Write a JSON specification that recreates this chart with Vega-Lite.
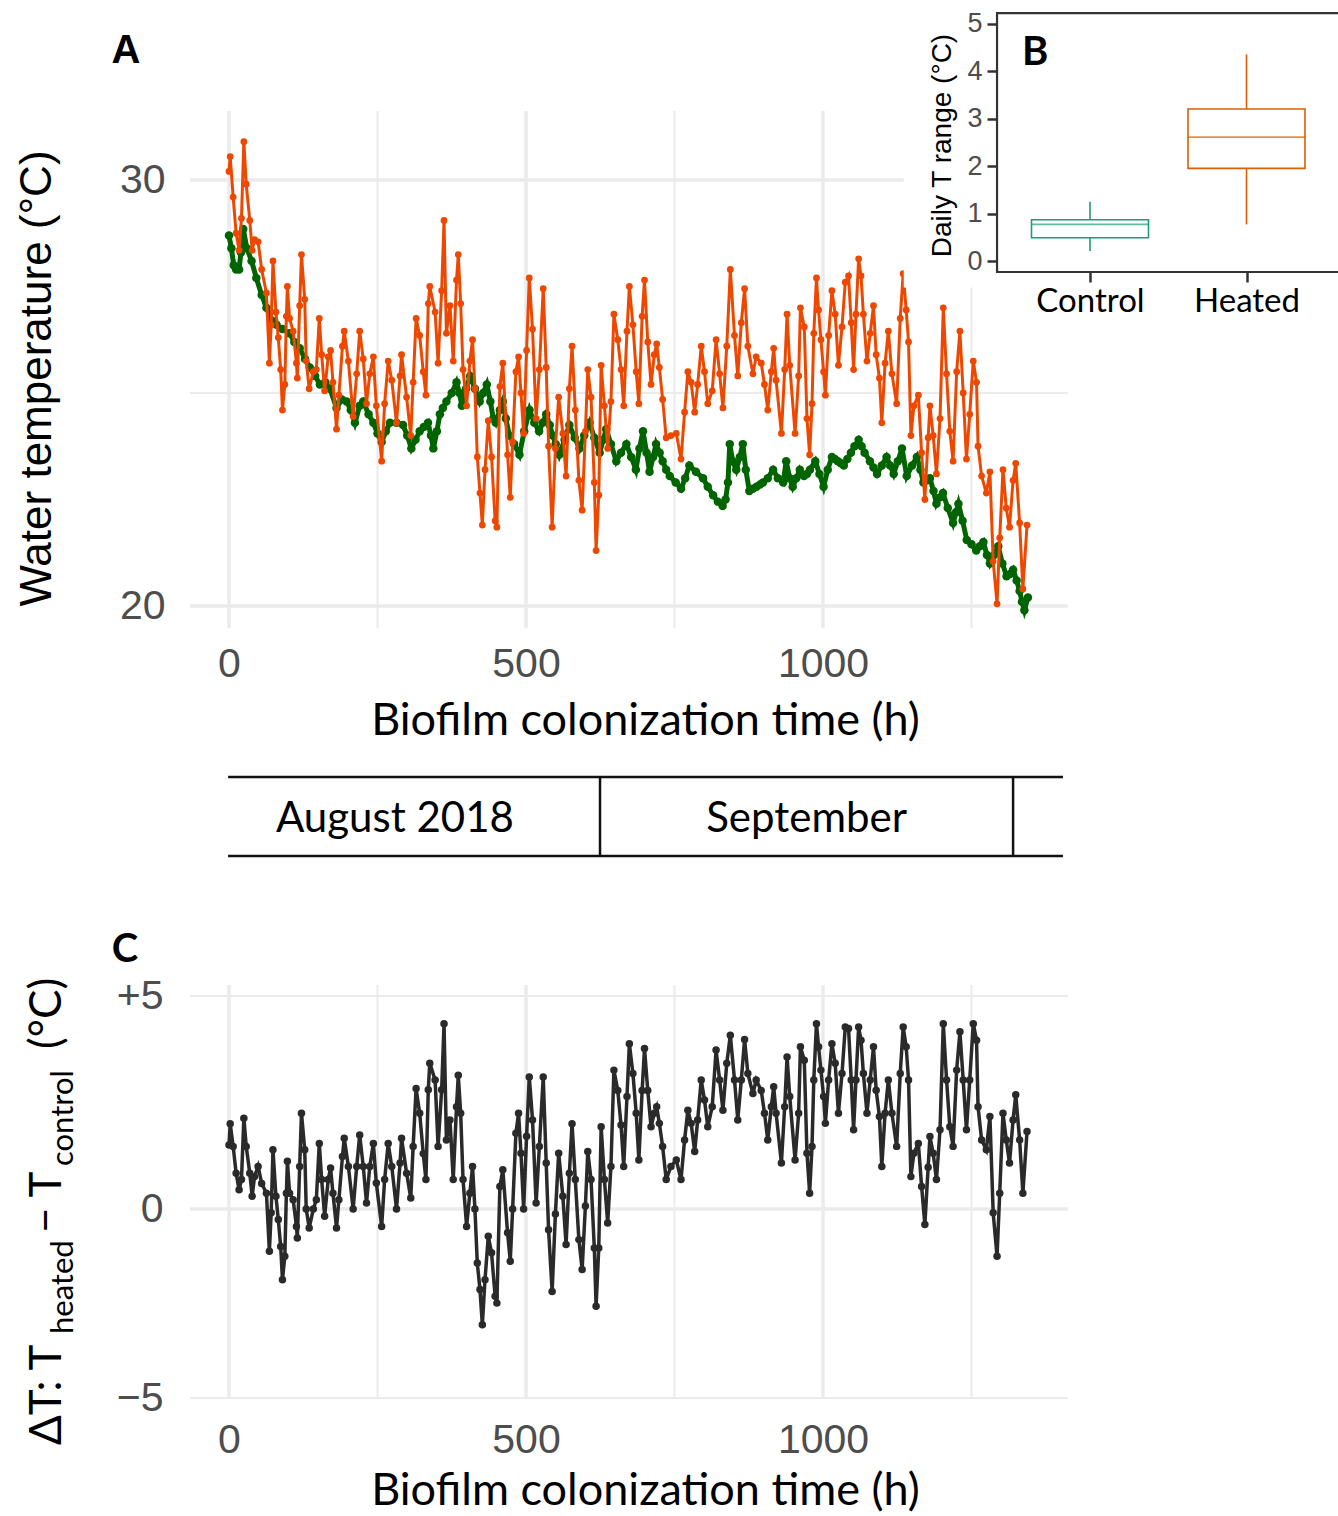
{
  "$schema": "https://vega.github.io/schema/vega-lite/v6.json",
  "width": 1338,
  "height": 1516,
  "autosize": "none",
  "padding": 0,
  "background": "white",
  "config": {"view": {"stroke": null}},
  "datasets": {
    "ctrl": [
      {"h":0,"t":28.7},{"h":4,"t":28.4},{"h":8,"t":28.0},{"h":12,"t":27.9},{"h":17,"t":27.9},{"h":20,"t":28.3},{"h":24,"t":28.85},{"h":30,"t":28.4},{"h":38,"t":28.1},{"h":46,"t":27.7},{"h":55,"t":27.3},{"h":63,"t":27.0},{"h":72,"t":26.7},{"h":80,"t":26.6},{"h":90,"t":26.5},{"h":102,"t":26.4},{"h":110,"t":26.2},{"h":119,"t":26.05},{"h":128,"t":25.8},{"h":136,"t":25.6},{"h":145,"t":25.4},{"h":153,"t":25.2},{"h":162,"t":25.25},{"h":170,"t":25.1},{"h":181,"t":24.65},{"h":190,"t":24.85},{"h":198,"t":24.8},{"h":205,"t":24.6},{"h":212,"t":24.3},{"h":220,"t":24.7},{"h":226,"t":24.8},{"h":235,"t":24.5},{"h":243,"t":24.3},{"h":250,"t":24.05},{"h":257,"t":23.85},{"h":264,"t":24.1},{"h":271,"t":24.3},{"h":282,"t":24.3},{"h":293,"t":24.25},{"h":300,"t":24.0},{"h":307,"t":23.7},{"h":314,"t":23.9},{"h":321,"t":24.1},{"h":328,"t":24.2},{"h":335,"t":24.3},{"h":340,"t":24.0},{"h":344,"t":23.7},{"h":350,"t":24.1},{"h":355,"t":24.5},{"h":360,"t":24.65},{"h":366,"t":24.8},{"h":375,"t":25.0},{"h":383,"t":25.25},{"h":388,"t":25.0},{"h":392,"t":24.7},{"h":399,"t":25.1},{"h":406,"t":25.4},{"h":414,"t":25.1},{"h":422,"t":24.8},{"h":428,"t":25.0},{"h":434,"t":25.2},{"h":440,"t":24.8},{"h":445,"t":24.4},{"h":449,"t":24.3},{"h":456,"t":24.6},{"h":461,"t":24.8},{"h":466,"t":24.4},{"h":472,"t":24.0},{"h":480,"t":23.8},{"h":489,"t":23.55},{"h":497,"t":24.1},{"h":506,"t":24.6},{"h":514,"t":24.3},{"h":522,"t":24.1},{"h":528,"t":24.3},{"h":534,"t":24.5},{"h":540,"t":24.25},{"h":545,"t":24.0},{"h":550,"t":23.8},{"h":556,"t":23.55},{"h":565,"t":23.9},{"h":573,"t":24.25},{"h":582,"t":23.95},{"h":590,"t":23.7},{"h":598,"t":24.0},{"h":607,"t":24.3},{"h":615,"t":23.95},{"h":624,"t":23.6},{"h":630,"t":23.9},{"h":635,"t":24.15},{"h":643,"t":23.8},{"h":652,"t":23.4},{"h":660,"t":23.6},{"h":669,"t":23.8},{"h":677,"t":23.5},{"h":685,"t":23.2},{"h":691,"t":23.7},{"h":697,"t":24.1},{"h":703,"t":23.6},{"h":708,"t":23.15},{"h":714,"t":23.5},{"h":719,"t":23.8},{"h":725,"t":23.6},{"h":730,"t":23.4},{"h":736,"t":23.2},{"h":742,"t":23.05},{"h":752,"t":22.9},{"h":761,"t":22.75},{"h":768,"t":23.0},{"h":775,"t":23.3},{"h":786,"t":23.15},{"h":798,"t":23.0},{"h":806,"t":22.8},{"h":815,"t":22.6},{"h":823,"t":22.45},{"h":831,"t":22.35},{"h":836,"t":22.5},{"h":840,"t":22.9},{"h":843,"t":23.8},{"h":848,"t":23.4},{"h":854,"t":23.2},{"h":860,"t":23.5},{"h":865,"t":23.8},{"h":870,"t":23.2},{"h":876,"t":22.7},{"h":882,"t":22.75},{"h":888,"t":22.8},{"h":894,"t":22.85},{"h":899,"t":22.9},{"h":907,"t":23.0},{"h":916,"t":23.2},{"h":924,"t":23.0},{"h":933,"t":22.9},{"h":938,"t":23.4},{"h":944,"t":23.0},{"h":949,"t":22.8},{"h":955,"t":23.0},{"h":961,"t":23.2},{"h":968,"t":23.05},{"h":973,"t":23.1},{"h":978,"t":23.2},{"h":987,"t":23.4},{"h":994,"t":23.1},{"h":1001,"t":22.8},{"h":1008,"t":23.2},{"h":1015,"t":23.5},{"h":1020,"t":23.45},{"h":1025,"t":23.4},{"h":1030,"t":23.35},{"h":1035,"t":23.3},{"h":1041,"t":23.45},{"h":1047,"t":23.6},{"h":1053,"t":23.75},{"h":1060,"t":23.9},{"h":1065,"t":23.75},{"h":1070,"t":23.6},{"h":1079,"t":23.4},{"h":1085,"t":23.25},{"h":1091,"t":23.1},{"h":1099,"t":23.3},{"h":1107,"t":23.5},{"h":1113,"t":23.3},{"h":1119,"t":23.1},{"h":1126,"t":23.4},{"h":1133,"t":23.7},{"h":1141,"t":23.05},{"h":1150,"t":23.3},{"h":1158,"t":23.5},{"h":1164,"t":23.2},{"h":1169,"t":22.9},{"h":1175,"t":22.95},{"h":1180,"t":23.0},{"h":1186,"t":22.7},{"h":1191,"t":22.4},{"h":1197,"t":22.55},{"h":1202,"t":22.65},{"h":1210,"t":22.3},{"h":1219,"t":21.95},{"h":1224,"t":22.2},{"h":1228,"t":22.4},{"h":1235,"t":22.0},{"h":1242,"t":21.55},{"h":1250,"t":21.45},{"h":1258,"t":21.3},{"h":1264,"t":21.4},{"h":1270,"t":21.5},{"h":1276,"t":21.2},{"h":1281,"t":21.0},{"h":1288,"t":21.2},{"h":1295,"t":21.4},{"h":1302,"t":21.0},{"h":1309,"t":20.7},{"h":1315,"t":20.75},{"h":1320,"t":20.85},{"h":1326,"t":20.6},{"h":1331,"t":20.35},{"h":1335,"t":20.1},{"h":1339,"t":19.9},{"h":1345,"t":20.2}
    ],
    "diff": [
      {"h":0,"d":1.5,"w":30.2},{"h":2,"d":2.0,"w":30.55},{"h":7,"d":1.47,"w":29.6},{"h":12,"d":0.84,"w":28.75},{"h":17,"d":0.45,"w":28.35},{"h":21,"d":0.69,"w":29.1},{"h":25,"d":2.13,"w":30.9},{"h":29,"d":1.47,"w":29.9},{"h":35,"d":0.84,"w":29.05},{"h":39,"d":0.3,"w":28.35},{"h":43,"d":0.76,"w":28.6},{"h":49,"d":1.0,"w":28.55},{"h":55,"d":0.6,"w":27.9},{"h":63,"d":0.37,"w":27.35},{"h":68,"d":-1.12,"w":25.7},{"h":71,"d":-0.1,"w":26.6},{"h":74,"d":1.39,"w":28.1},{"h":79,"d":0.3,"w":26.9},{"h":83,"d":-0.28,"w":26.3},{"h":87,"d":-0.99,"w":25.55},{"h":90,"d":-1.87,"w":24.6},{"h":94,"d":-1.25,"w":25.2},{"h":96.6,"d":0.37,"w":26.8},{"h":98.3,"d":1.12,"w":27.5},{"h":102,"d":0.37,"w":26.75},{"h":108,"d":0.22,"w":26.45},{"h":113.5,"d":-0.46,"w":25.7},{"h":115,"d":-0.77,"w":25.35},{"h":119,"d":1.0,"w":27.05},{"h":122,"d":2.25,"w":28.25},{"h":127.5,"d":1.39,"w":27.2},{"h":130,"d":0.0,"w":25.75},{"h":135,"d":-0.5,"w":25.1},{"h":142,"d":0.0,"w":25.5},{"h":147,"d":0.22,"w":25.55},{"h":152,"d":1.54,"w":26.75},{"h":156,"d":0.69,"w":25.9},{"h":161,"d":-0.19,"w":25.05},{"h":167,"d":0.69,"w":25.85},{"h":171,"d":0.96,"w":26.0},{"h":175,"d":0.37,"w":25.25},{"h":181,"d":-0.5,"w":24.15},{"h":185,"d":0.22,"w":24.95},{"h":191,"d":1.23,"w":26.1},{"h":194,"d":1.66,"w":26.45},{"h":201,"d":1.0,"w":25.75},{"h":209,"d":0.0,"w":24.45},{"h":215,"d":1.0,"w":25.45},{"h":220,"d":1.74,"w":26.45},{"h":226,"d":1.0,"w":25.8},{"h":231.5,"d":0.14,"w":24.75},{"h":237,"d":1.0,"w":25.45},{"h":243,"d":1.54,"w":25.85},{"h":248,"d":0.61,"w":24.7},{"h":257,"d":-0.46,"w":23.4},{"h":262,"d":0.69,"w":24.75},{"h":268,"d":1.54,"w":25.75},{"h":274,"d":1.0,"w":25.3},{"h":282,"d":0.0,"w":24.3},{"h":288,"d":1.08,"w":25.4},{"h":290.5,"d":1.66,"w":25.9},{"h":299,"d":0.84,"w":24.9},{"h":306,"d":0.26,"w":24.0},{"h":310,"d":1.47,"w":25.25},{"h":315,"d":2.83,"w":26.75},{"h":321,"d":2.25,"w":26.35},{"h":327,"d":1.3,"w":25.5},{"h":331.5,"d":0.69,"w":24.95},{"h":335.5,"d":2.8,"w":27.1},{"h":338,"d":3.42,"w":27.5},{"h":347,"d":3.03,"w":26.9},{"h":352,"d":1.47,"w":25.7},{"h":358,"d":2.8,"w":27.4},{"h":362,"d":4.35,"w":29.05},{"h":366,"d":1.62,"w":26.4},{"h":372,"d":2.09,"w":27.05},{"h":377.5,"d":0.69,"w":25.75},{"h":383,"d":2.4,"w":27.65},{"h":386,"d":3.14,"w":28.25},{"h":390,"d":2.25,"w":27.1},{"h":394,"d":0.69,"w":25.55},{"h":400,"d":-0.46,"w":24.7},{"h":405.5,"d":0.37,"w":25.75},{"h":410,"d":1.0,"w":26.25},{"h":414,"d":0.0,"w":25.1},{"h":418,"d":-1.43,"w":23.5},{"h":422.5,"d":-2.13,"w":22.65},{"h":426.5,"d":-3.06,"w":21.9},{"h":431,"d":-1.87,"w":23.2},{"h":436.5,"d":-0.72,"w":24.35},{"h":442,"d":-1.16,"w":23.5},{"h":448,"d":-2.31,"w":22.0},{"h":451,"d":-2.49,"w":21.85},{"h":456,"d":0.53,"w":25.15},{"h":461,"d":0.92,"w":25.7},{"h":469,"d":-0.63,"w":23.55},{"h":473.5,"d":-1.38,"w":22.55},{"h":477.5,"d":0.0,"w":23.85},{"h":483,"d":1.78,"w":25.5},{"h":487.5,"d":2.25,"w":25.85},{"h":491.5,"d":1.31,"w":25.0},{"h":496,"d":0.0,"w":24.05},{"h":501,"d":1.71,"w":26.0},{"h":505.5,"d":3.1,"w":27.7},{"h":511,"d":2.09,"w":26.5},{"h":517,"d":0.14,"w":24.4},{"h":522.5,"d":1.47,"w":25.55},{"h":529,"d":3.1,"w":27.45},{"h":534,"d":1.08,"w":25.6},{"h":538,"d":-0.55,"w":23.75},{"h":544,"d":-2.18,"w":21.85},{"h":549.5,"d":-0.13,"w":23.7},{"h":555,"d":1.31,"w":24.9},{"h":562,"d":0.3,"w":24.05},{"h":567.5,"d":-0.94,"w":23.05},{"h":573,"d":0.84,"w":25.1},{"h":577.5,"d":2.0,"w":26.1},{"h":583,"d":0.69,"w":24.6},{"h":589,"d":-0.81,"w":22.95},{"h":594.5,"d":-1.6,"w":22.25},{"h":600,"d":0.07,"w":24.1},{"h":604,"d":1.35,"w":25.55},{"h":609.5,"d":0.69,"w":24.9},{"h":615,"d":-1.03,"w":22.9},{"h":618,"d":-2.57,"w":21.3},{"h":622.5,"d":-1.03,"w":22.6},{"h":626.5,"d":1.93,"w":25.65},{"h":632,"d":0.69,"w":24.7},{"h":637.5,"d":-0.37,"w":23.7},{"h":643,"d":1.0,"w":24.8},{"h":648,"d":3.26,"w":26.85},{"h":654.5,"d":2.78,"w":26.25},{"h":660,"d":1.97,"w":25.55},{"h":664.5,"d":1.0,"w":24.7},{"h":670,"d":2.64,"w":26.45},{"h":674,"d":3.88,"w":27.5},{"h":680,"d":3.18,"w":26.6},{"h":685.5,"d":2.25,"w":25.5},{"h":690,"d":1.15,"w":24.75},{"h":695.5,"d":2.78,"w":26.8},{"h":699.5,"d":3.77,"w":27.65},{"h":705,"d":2.78,"w":26.2},{"h":710.5,"d":1.93,"w":25.2},{"h":716,"d":2.25,"w":25.9},{"h":720,"d":2.4,"w":26.15},{"h":724.5,"d":2.01,"w":25.6},{"h":730,"d":1.47,"w":24.85},{"h":736,"d":0.69,"w":23.95},{"h":744,"d":1.0,"w":24.0},{"h":753,"d":1.15,"w":24.05},{"h":761,"d":0.69,"w":23.45},{"h":767,"d":1.62,"w":24.55},{"h":772.5,"d":2.32,"w":25.5},{"h":778,"d":2.01,"w":25.25},{"h":784,"d":1.35,"w":24.55},{"h":789,"d":2.09,"w":25.2},{"h":795,"d":3.03,"w":26.1},{"h":800.5,"d":2.56,"w":25.5},{"h":806,"d":1.93,"w":24.75},{"h":813.5,"d":2.4,"w":25.05},{"h":820,"d":3.73,"w":26.25},{"h":826,"d":3.03,"w":25.45},{"h":831.5,"d":2.32,"w":24.65},{"h":838,"d":3.42,"w":26.1},{"h":844,"d":4.08,"w":27.9},{"h":851,"d":3.03,"w":26.35},{"h":856.5,"d":2.09,"w":25.4},{"h":862.5,"d":3.03,"w":26.65},{"h":868,"d":3.98,"w":27.45},{"h":873.5,"d":3.18,"w":26.1},{"h":882,"d":2.71,"w":25.45},{"h":887.5,"d":3.03,"w":25.85},{"h":896,"d":2.78,"w":25.7},{"h":901.5,"d":2.25,"w":25.2},{"h":907,"d":1.62,"w":24.6},{"h":913,"d":2.4,"w":25.5},{"h":917,"d":2.87,"w":26.05},{"h":921,"d":2.25,"w":25.3},{"h":930,"d":1.08,"w":24.05},{"h":935.5,"d":2.4,"w":25.55},{"h":939.5,"d":3.57,"w":26.85},{"h":944,"d":2.64,"w":25.65},{"h":953,"d":1.15,"w":24.05},{"h":959,"d":2.25,"w":25.4},{"h":962,"d":3.81,"w":27.0},{"h":968.5,"d":3.49,"w":26.55},{"h":973,"d":1.31,"w":24.4},{"h":977.5,"d":0.37,"w":23.55},{"h":981.5,"d":1.47,"w":24.75},{"h":984.5,"d":3.03,"w":26.4},{"h":989,"d":4.35,"w":27.7},{"h":992.5,"d":3.81,"w":26.95},{"h":996.5,"d":3.26,"w":26.25},{"h":1001,"d":2.64,"w":25.5},{"h":1004,"d":2.01,"w":24.95},{"h":1009.5,"d":3.03,"w":26.35},{"h":1015,"d":3.88,"w":27.4},{"h":1020.5,"d":3.42,"w":26.85},{"h":1026,"d":2.25,"w":25.65},{"h":1032,"d":3.18,"w":26.55},{"h":1037.5,"d":4.27,"w":27.6},{"h":1043,"d":4.24,"w":27.75},{"h":1047.5,"d":3.03,"w":26.65},{"h":1051.5,"d":1.86,"w":25.55},{"h":1055.5,"d":3.03,"w":26.85},{"h":1060,"d":4.27,"w":28.15},{"h":1064,"d":3.96,"w":27.75},{"h":1068,"d":3.18,"w":26.85},{"h":1074,"d":2.25,"w":25.75},{"h":1079.5,"d":3.03,"w":26.4},{"h":1085,"d":3.81,"w":27.05},{"h":1089.5,"d":2.79,"w":25.9},{"h":1095,"d":2.17,"w":25.35},{"h":1099,"d":1.0,"w":24.3},{"h":1104.5,"d":2.25,"w":25.7},{"h":1110,"d":3.03,"w":26.45},{"h":1116,"d":2.25,"w":25.45},{"h":1124,"d":1.47,"w":24.75},{"h":1130,"d":3.18,"w":26.75},{"h":1135,"d":4.27,"w":27.8},{"h":1140,"d":3.81,"w":26.95},{"h":1144,"d":3.03,"w":26.2},{"h":1148,"d":0.76,"w":24.0},{"h":1153,"d":1.31,"w":24.7},{"h":1160.5,"d":1.54,"w":24.95},{"h":1166,"d":0.53,"w":23.6},{"h":1171.5,"d":-0.41,"w":22.5},{"h":1177,"d":0.98,"w":23.95},{"h":1180,"d":1.7,"w":24.7},{"h":1185.5,"d":1.31,"w":24.0},{"h":1191,"d":0.69,"w":23.1},{"h":1197,"d":1.86,"w":24.4},{"h":1202.5,"d":4.35,"w":27.0},{"h":1208,"d":3.03,"w":25.45},{"h":1213.5,"d":1.93,"w":24.1},{"h":1219,"d":1.47,"w":23.4},{"h":1225,"d":3.26,"w":25.5},{"h":1230.5,"d":4.16,"w":26.45},{"h":1236,"d":3.03,"w":25.0},{"h":1241.5,"d":1.86,"w":23.45},{"h":1247,"d":3.03,"w":24.5},{"h":1253,"d":4.35,"w":25.75},{"h":1258.5,"d":3.96,"w":25.25},{"h":1261,"d":2.4,"w":23.75},{"h":1267,"d":1.62,"w":23.05},{"h":1275,"d":1.39,"w":22.65},{"h":1281,"d":2.17,"w":23.15},{"h":1286.5,"d":-0.1,"w":21.05},{"h":1293,"d":-1.25,"w":20.05},{"h":1297.5,"d":0.37,"w":21.6},{"h":1303,"d":2.25,"w":23.2},{"h":1308.5,"d":1.62,"w":22.3},{"h":1314,"d":1.08,"w":21.85},{"h":1320,"d":2.09,"w":22.95},{"h":1324.5,"d":2.68,"w":23.35},{"h":1331,"d":1.62,"w":21.95},{"h":1336.5,"d":0.37,"w":20.4},{"h":1343.5,"d":1.82,"w":21.9}
    ],
    "box": [
      {"grp":"Control","lo":0.21,"q1":0.49,"med":0.77,"q3":0.87,"hi":1.25},
      {"grp":"Heated","lo":0.77,"q1":1.95,"med":2.61,"q3":3.2,"hi":4.35}
    ],
    "months": [
      {"month":"August 2018","start":-66,"end":624.6},
      {"month":"September","start":624.6,"end":1320}
    ]
  },
  "layer": [
    {
      "layer": [
        {
          "data": {"values": [{"g":0},{"g":500},{"g":1000}]},
          "mark": {"type":"rule","color":"#EBEBEB","strokeWidth":3.5},
          "encoding": {
            "x": {"field":"g","type":"quantitative","scale":{"domain":[0,1000],"range":[229,823],"zero":false,"nice":false},
              "axis":{"orient":"bottom","offset":-888,"values":[0,500,1000],"format":"d","domain":false,"ticks":false,"tickSize":0,"grid":false,"labelFont":"Liberation Sans","labelFontSize":41,"labelColor":"#4D4D4D","labelPadding":16,"labelFlush":false,"labelOverlap":false,"title":"Biofilm colonization time (h)","titleFont":"Lato","titleFontSize":45,"titleFontWeight":"normal","titleColor":"#000000","titleX":645,"titleY":106,"titleBaseline":"alphabetic","titleAlign":"center"}},
            "y": {"datum":19.48,"type":"quantitative","scale":{"domain":[20,30],"range":[606,180],"zero":false,"nice":false},
              "axis":{"orient":"left","offset":-189,"values":[20,30],"format":"d","domain":false,"ticks":false,"tickSize":0,"grid":false,"labelFont":"Liberation Sans","labelFontSize":41,"labelColor":"#4D4D4D","labelPadding":24,"title":"Water temperature (°C)","titleFont":"Liberation Sans","titleFontSize":44,"titleFontWeight":"normal","titleColor":"#000000","titleAngle":270,"titleX":-139,"titleY":378,"titleBaseline":"alphabetic","titleAlign":"center"}},
            "y2": {"datum":31.62}
          }
        },
        {
          "data": {"values": [{"g":250},{"g":750},{"g":1250}]},
          "mark": {"type":"rule","color":"#EBEBEB","strokeWidth":2},
          "encoding": {
            "x": {"field":"g","type":"quantitative","scale":{"domain":[0,1000],"range":[229,823],"zero":false,"nice":false}},
            "y": {"datum":19.48,"type":"quantitative","scale":{"domain":[20,30],"range":[606,180],"zero":false,"nice":false}},
            "y2": {"datum":31.62}
          }
        },
        {
          "data": {"values": [{"g":20},{"g":30}]},
          "mark": {"type":"rule","color":"#EBEBEB","strokeWidth":3.5},
          "encoding": {
            "y": {"field":"g","type":"quantitative","scale":{"domain":[20,30],"range":[606,180],"zero":false,"nice":false}},
            "x": {"datum":-65.7,"type":"quantitative","scale":{"domain":[0,1000],"range":[229,823],"zero":false,"nice":false}},
            "x2": {"datum":1412}
          }
        },
        {
          "data": {"values": [{"g":25}]},
          "mark": {"type":"rule","color":"#EBEBEB","strokeWidth":2},
          "encoding": {
            "y": {"field":"g","type":"quantitative","scale":{"domain":[20,30],"range":[606,180],"zero":false,"nice":false}},
            "x": {"datum":-65.7,"type":"quantitative","scale":{"domain":[0,1000],"range":[229,823],"zero":false,"nice":false}},
            "x2": {"datum":1412}
          }
        },
        {
          "data": {"name": "ctrl"},
          "mark": {"type":"line","color":"#006400","strokeWidth":5},
          "encoding": {
            "x": {"field":"h","type":"quantitative","scale":{"domain":[0,1000],"range":[229,823],"zero":false,"nice":false}},
            "y": {"field":"t","type":"quantitative","scale":{"domain":[20,30],"range":[606,180],"zero":false,"nice":false}}
          }
        },
        {
          "data": {"name": "ctrl"},
          "mark": {"type":"circle","color":"#006400","size":72,"opacity":1},
          "encoding": {
            "x": {"field":"h","type":"quantitative","scale":{"domain":[0,1000],"range":[229,823],"zero":false,"nice":false}},
            "y": {"field":"t","type":"quantitative","scale":{"domain":[20,30],"range":[606,180],"zero":false,"nice":false}}
          }
        },
        {
          "data": {"name": "diff"},
          "mark": {"type":"line","color":"#EE4800","strokeWidth":3},
          "encoding": {
            "x": {"field":"h","type":"quantitative","scale":{"domain":[0,1000],"range":[229,823],"zero":false,"nice":false}},
            "y": {"field":"w","type":"quantitative","scale":{"domain":[20,30],"range":[606,180],"zero":false,"nice":false}}
          }
        },
        {
          "data": {"name": "diff"},
          "mark": {"type":"circle","color":"#EE4800","size":46,"opacity":1},
          "encoding": {
            "x": {"field":"h","type":"quantitative","scale":{"domain":[0,1000],"range":[229,823],"zero":false,"nice":false}},
            "y": {"field":"w","type":"quantitative","scale":{"domain":[20,30],"range":[606,180],"zero":false,"nice":false}}
          }
        },
        {
          "data": {"values": [{"lab":"A"}]},
          "mark": {"type":"text","font":"Liberation Sans","fontWeight":"bold","fontSize":40,"align":"center","baseline":"alphabetic","color":"#000000"},
          "encoding": {
            "x": {"datum":-173.4,"type":"quantitative","scale":{"domain":[0,1000],"range":[229,823],"zero":false,"nice":false}},
            "y": {"datum":32.75,"type":"quantitative","scale":{"domain":[20,30],"range":[606,180],"zero":false,"nice":false}},
            "text": {"field":"lab"}
          }
        }
      ]
    },
    {
      "layer": [
        {
          "data": {"values": [{}]},
          "mark": {"type":"rect","fill":"#FFFFFF","stroke":null},
          "encoding": {
            "x": {"datum":-0.19,"type":"quantitative","scale":{"domain":[1,2],"range":[1090,1246.5],"zero":false,"nice":false,"padding":0},
              "axis":{"orient":"bottom","offset":-1244,"values":[1,2],"labelExpr":"datum.value == 1 ? 'Control' : 'Heated'","domain":false,"ticks":true,"tickSize":10,"tickWidth":2.5,"tickColor":"#333333","grid":false,"labelFont":"Lato","labelFontSize":33,"labelColor":"#000000","labelPadding":3,"labelFlush":false,"labelOverlap":false,"title":null,"zindex":1}},
            "x2": {"datum":2.7},
            "y": {"datum":-0.56,"type":"quantitative","scale":{"domain":[0,5],"range":[261,23.5],"zero":false,"nice":false,"padding":0},
              "axis":{"orient":"left","offset":-997,"values":[0,1,2,3,4,5],"format":"d","domain":false,"ticks":true,"tickSize":10,"tickWidth":2.5,"tickColor":"#333333","grid":false,"labelFont":"Liberation Sans","labelFontSize":27,"labelColor":"#4D4D4D","labelPadding":5,"title":"Daily T range (°C)","titleFont":"Liberation Sans","titleFontSize":28,"titleFontWeight":"normal","titleColor":"#000000","titleAngle":270,"titleX":-47,"titleY":145,"titleBaseline":"alphabetic","titleAlign":"center","zindex":1}},
            "y2": {"datum":5.7}
          }
        },
        {
          "data": {"values": [{}]},
          "mark": {"type":"rect","fill":null,"stroke":"#333333","strokeWidth":2.2},
          "encoding": {
            "x": {"datum":0.406,"type":"quantitative","scale":{"domain":[1,2],"range":[1090,1246.5],"zero":false,"nice":false,"padding":0}},
            "x2": {"datum":2.7},
            "y": {"datum":-0.232,"type":"quantitative","scale":{"domain":[0,5],"range":[261,23.5],"zero":false,"nice":false,"padding":0}},
            "y2": {"datum":5.22}
          }
        },
        {
          "data": {"name":"box"},
          "transform": [{"calculate":"indexof(['Control','Heated'], datum.grp) + 1","as":"k"}],
          "mark": {"type":"rule","strokeWidth":1.6},
          "encoding": {
            "x": {"field":"k","type":"quantitative","scale":{"domain":[1,2],"range":[1090,1246.5],"zero":false,"nice":false,"padding":0}},
            "y": {"field":"lo","type":"quantitative","scale":{"domain":[0,5],"range":[261,23.5],"zero":false,"nice":false,"padding":0}},
            "y2": {"field":"q1"},
            "color": {"field":"grp","type":"nominal","scale":{"domain":["Control","Heated"],"range":["#1B9E77","#D95F02"]},"legend":null}
          }
        },
        {
          "data": {"name":"box"},
          "transform": [{"calculate":"indexof(['Control','Heated'], datum.grp) + 1","as":"k"}],
          "mark": {"type":"rule","strokeWidth":1.6},
          "encoding": {
            "x": {"field":"k","type":"quantitative","scale":{"domain":[1,2],"range":[1090,1246.5],"zero":false,"nice":false,"padding":0}},
            "y": {"field":"q3","type":"quantitative","scale":{"domain":[0,5],"range":[261,23.5],"zero":false,"nice":false,"padding":0}},
            "y2": {"field":"hi"},
            "color": {"field":"grp","type":"nominal","scale":{"domain":["Control","Heated"],"range":["#1B9E77","#D95F02"]},"legend":null}
          }
        },
        {
          "data": {"name":"box"},
          "transform": [{"calculate":"indexof(['Control','Heated'], datum.grp) + 1","as":"k"}],
          "mark": {"type":"bar","filled":false,"size":117,"strokeWidth":1.6},
          "encoding": {
            "x": {"field":"k","type":"quantitative","scale":{"domain":[1,2],"range":[1090,1246.5],"zero":false,"nice":false,"padding":0}},
            "y": {"field":"q1","type":"quantitative","scale":{"domain":[0,5],"range":[261,23.5],"zero":false,"nice":false,"padding":0}},
            "y2": {"field":"q3"},
            "color": {"field":"grp","type":"nominal","scale":{"domain":["Control","Heated"],"range":["#1B9E77","#D95F02"]},"legend":null}
          }
        },
        {
          "data": {"name":"box"},
          "transform": [{"calculate":"indexof(['Control','Heated'], datum.grp) + 1","as":"k"}],
          "mark": {"type":"tick","orient":"horizontal","size":117,"thickness":1.8},
          "encoding": {
            "x": {"field":"k","type":"quantitative","scale":{"domain":[1,2],"range":[1090,1246.5],"zero":false,"nice":false,"padding":0}},
            "y": {"field":"med","type":"quantitative","scale":{"domain":[0,5],"range":[261,23.5],"zero":false,"nice":false,"padding":0}},
            "color": {"field":"grp","type":"nominal","scale":{"domain":["Control","Heated"],"range":["#1B9E77","#D95F02"]},"legend":null}
          }
        },
        {
          "data": {"values": [{"lab":"B"}]},
          "mark": {"type":"text","font":"Lato","fontWeight":"bold","fontSize":40,"align":"center","baseline":"alphabetic","color":"#000000"},
          "encoding": {
            "x": {"datum":0.649,"type":"quantitative","scale":{"domain":[1,2],"range":[1090,1246.5],"zero":false,"nice":false,"padding":0}},
            "y": {"datum":4.118,"type":"quantitative","scale":{"domain":[0,5],"range":[261,23.5],"zero":false,"nice":false,"padding":0}},
            "text": {"field":"lab"}
          }
        }
      ]
    },
    {
      "layer": [
        {
          "data": {"values": [{"edge":0},{"edge":1}]},
          "mark": {"type":"rule","color":"#111111","strokeWidth":2.5},
          "encoding": {
            "y": {"field":"edge","type":"quantitative","scale":{"domain":[0,1],"range":[856,777],"zero":false,"nice":false},"axis":null},
            "x": {"datum":-1.5,"type":"quantitative","scale":{"domain":[0,1000],"range":[229,823],"zero":false,"nice":false},"axis":null},
            "x2": {"datum":1404}
          }
        },
        {
          "data": {"name":"months"},
          "mark": {"type":"rule","color":"#111111","strokeWidth":2.5},
          "encoding": {
            "x": {"field":"end","type":"quantitative","scale":{"domain":[0,1000],"range":[229,823],"zero":false,"nice":false},"axis":null},
            "y": {"datum":0,"type":"quantitative","scale":{"domain":[0,1],"range":[856,777],"zero":false,"nice":false},"axis":null},
            "y2": {"datum":1}
          }
        },
        {
          "data": {"name":"months"},
          "transform": [{"calculate":"(datum.start + datum.end) / 2","as":"mid"}],
          "mark": {"type":"text","font":"Lato","fontSize":42,"align":"center","baseline":"alphabetic","color":"#000000"},
          "encoding": {
            "x": {"field":"mid","type":"quantitative","scale":{"domain":[0,1000],"range":[229,823],"zero":false,"nice":false},"axis":null},
            "y": {"datum":0.3,"type":"quantitative","scale":{"domain":[0,1],"range":[856,777],"zero":false,"nice":false},"axis":null},
            "text": {"field":"month"}
          }
        }
      ]
    },
    {
      "layer": [
        {
          "data": {"values": [{"g":0},{"g":500},{"g":1000}]},
          "mark": {"type":"rule","color":"#EBEBEB","strokeWidth":3.5},
          "encoding": {
            "x": {"field":"g","type":"quantitative","scale":{"domain":[0,1000],"range":[229,823],"zero":false,"nice":false},
              "axis":{"orient":"bottom","offset":-118,"values":[0,500,1000],"format":"d","domain":false,"ticks":false,"tickSize":0,"grid":false,"labelFont":"Liberation Sans","labelFontSize":41,"labelColor":"#4D4D4D","labelPadding":22,"labelFlush":false,"labelOverlap":false,"title":"Biofilm colonization time (h)","titleFont":"Lato","titleFontSize":45,"titleFontWeight":"normal","titleColor":"#000000","titleX":645,"titleY":106,"titleBaseline":"alphabetic","titleAlign":"center"}},
            "y": {"datum":-5,"type":"quantitative","scale":{"domain":[-5,0,5],"range":[1398,1209,996],"zero":false,"nice":false},
              "axis":{"orient":"left","offset":-189,"values":[-5,0,5],"labelExpr":"datum.value > 0 ? '+' + datum.value : (datum.value < 0 ? '−' + (-datum.value) : '0')","domain":false,"ticks":false,"tickSize":0,"grid":false,"labelFont":"Liberation Sans","labelFontSize":41,"labelColor":"#4D4D4D","labelPadding":26,"title":null}},
            "y2": {"datum":5.26}
          }
        },
        {
          "data": {"values": [{"g":250},{"g":750},{"g":1250}]},
          "mark": {"type":"rule","color":"#EBEBEB","strokeWidth":2},
          "encoding": {
            "x": {"field":"g","type":"quantitative","scale":{"domain":[0,1000],"range":[229,823],"zero":false,"nice":false}},
            "y": {"datum":-5,"type":"quantitative","scale":{"domain":[-5,0,5],"range":[1398,1209,996],"zero":false,"nice":false}},
            "y2": {"datum":5.26}
          }
        },
        {
          "data": {"values": [{"g":0}]},
          "mark": {"type":"rule","color":"#EBEBEB","strokeWidth":3.5},
          "encoding": {
            "y": {"field":"g","type":"quantitative","scale":{"domain":[-5,0,5],"range":[1398,1209,996],"zero":false,"nice":false}},
            "x": {"datum":-65.7,"type":"quantitative","scale":{"domain":[0,1000],"range":[229,823],"zero":false,"nice":false}},
            "x2": {"datum":1412}
          }
        },
        {
          "data": {"values": [{"g":-5},{"g":5}]},
          "mark": {"type":"rule","color":"#EBEBEB","strokeWidth":2},
          "encoding": {
            "y": {"field":"g","type":"quantitative","scale":{"domain":[-5,0,5],"range":[1398,1209,996],"zero":false,"nice":false}},
            "x": {"datum":-65.7,"type":"quantitative","scale":{"domain":[0,1000],"range":[229,823],"zero":false,"nice":false}},
            "x2": {"datum":1412}
          }
        },
        {
          "data": {"name": "diff"},
          "mark": {"type":"line","color":"#2A2A2A","strokeWidth":3.5},
          "encoding": {
            "x": {"field":"h","type":"quantitative","scale":{"domain":[0,1000],"range":[229,823],"zero":false,"nice":false}},
            "y": {"field":"d","type":"quantitative","scale":{"domain":[-5,0,5],"range":[1398,1209,996],"zero":false,"nice":false}}
          }
        },
        {
          "data": {"name": "diff"},
          "mark": {"type":"circle","color":"#2A2A2A","size":56,"opacity":1},
          "encoding": {
            "x": {"field":"h","type":"quantitative","scale":{"domain":[0,1000],"range":[229,823],"zero":false,"nice":false}},
            "y": {"field":"d","type":"quantitative","scale":{"domain":[-5,0,5],"range":[1398,1209,996],"zero":false,"nice":false}}
          }
        },
        {
          "data": {"values": [{"lab":"C"}]},
          "mark": {"type":"text","font":"Lato","fontWeight":"bold","fontSize":40,"align":"center","baseline":"alphabetic","color":"#000000"},
          "encoding": {
            "x": {"datum":-175.1,"type":"quantitative","scale":{"domain":[0,1000],"range":[229,823],"zero":false,"nice":false}},
            "y": {"datum":5.798,"type":"quantitative","scale":{"domain":[-5,0,5],"range":[1398,1209,996],"zero":false,"nice":false}},
            "text": {"field":"lab"}
          }
        },
        {
          "data": {"values": [{"frag":"ΔT: T","p":-6.243},{"frag":"− T","p":-0.635},{"frag":"(°C)","p":3.756}]},
          "mark": {"type":"text","font":"Lato","fontSize":44,"align":"left","baseline":"alphabetic","angle":270,"color":"#000000"},
          "encoding": {
            "x": {"datum":-283.3,"type":"quantitative","scale":{"domain":[0,1000],"range":[229,823],"zero":false,"nice":false}},
            "y": {"field":"p","type":"quantitative","scale":{"domain":[-5,0,5],"range":[1398,1209,996],"zero":false,"nice":false}},
            "text": {"field":"frag"}
          }
        },
        {
          "data": {"values": [{"frag":"heated","p":-3.307},{"frag":"control","p":1.009}]},
          "mark": {"type":"text","font":"Lato","fontSize":31,"align":"left","baseline":"alphabetic","angle":270,"color":"#000000"},
          "encoding": {
            "x": {"datum":-262.6,"type":"quantitative","scale":{"domain":[0,1000],"range":[229,823],"zero":false,"nice":false}},
            "y": {"field":"p","type":"quantitative","scale":{"domain":[-5,0,5],"range":[1398,1209,996],"zero":false,"nice":false}},
            "text": {"field":"frag"}
          }
        }
      ]
    }
  ],
  "resolve": {"scale": {"x":"independent","y":"independent"}, "axis": {"x":"independent","y":"independent"}}
}
